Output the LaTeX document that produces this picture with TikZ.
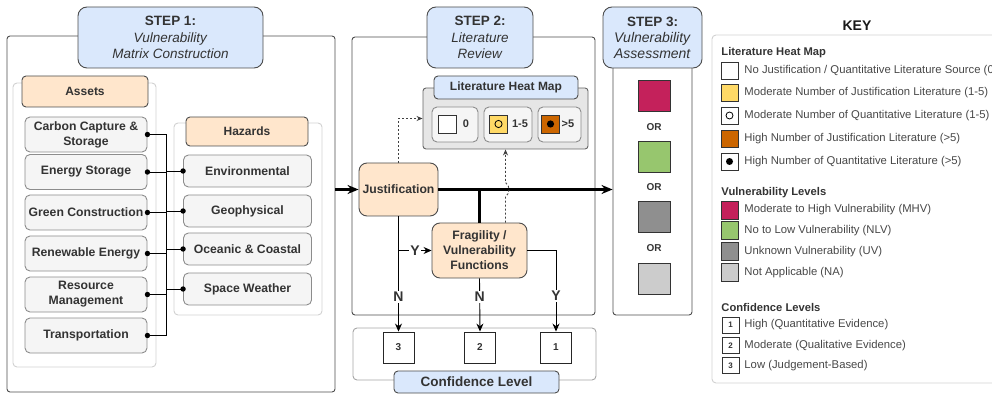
\documentclass[tikz,border=0pt]{standalone}
\usepackage{fontspec}
\setmainfont{Liberation Sans}
\usetikzlibrary{arrows.meta}
\definecolor{txtgray}{HTML}{333333}
\definecolor{headblue}{HTML}{DAE8FC}
\definecolor{peach}{HTML}{FFE6CC}
\definecolor{boxfill}{HTML}{F5F5F5}
\definecolor{boxline}{HTML}{8C8C8C}
\definecolor{heatfill}{HTML}{E6E6E6}
\definecolor{mhv}{HTML}{C4215B}
\definecolor{nlv}{HTML}{97C66E}
\definecolor{uv}{HTML}{8F8F8F}
\definecolor{na}{HTML}{CCCCCC}
\definecolor{modlit}{HTML}{FFD966}
\definecolor{highlit}{HTML}{CC6600}
\begin{document}
\begin{tikzpicture}[x=1pt,y=-1pt,line width=0.9pt,
  every node/.style={text=txtgray,inner sep=0pt},
  frame/.style={draw=black!70,rounded corners=3pt},
  group/.style={draw=black!18,rounded corners=4pt},
  stephead/.style={draw=black!70,fill=headblue,rounded corners=9pt,align=center,font=\fontsize{13.5}{16.5}\selectfont},
  tag/.style={draw=black!70,rounded corners=4pt,font=\bfseries\fontsize{12}{14}\selectfont,align=center},
  item/.style={draw=boxline,fill=boxfill,rounded corners=5pt,font=\bfseries\fontsize{12.2}{15}\selectfont,align=center},
  proc/.style={draw=black!70,fill=peach,rounded corners=8pt,font=\bfseries\fontsize{12.2}{15}\selectfont,align=center},
  conf/.style={draw=black!85,fill=white,minimum width=31pt,minimum height=31pt,font=\bfseries\fontsize{10}{12}\selectfont},
  swatch/.style={draw=black!80,minimum width=32pt,minimum height=31pt},
  keysq/.style={draw=black!80,minimum width=17pt,minimum height=17pt},
  keytxt/.style={anchor=west,font=\fontsize{11.3}{13}\selectfont,text=black!72},
  keyhead/.style={anchor=west,font=\bfseries\fontsize{11.2}{13}\selectfont},
  yn/.style={fill=white,font=\bfseries\fontsize{14}{16}\selectfont,inner sep=1.5pt},
  lit/.style={dash pattern=on 2pt off 2pt,draw=black!75,-{Stealth[length=6pt,width=5pt]}},
  thick link/.style={line width=2.2pt,-{Stealth[length=11pt,width=9pt]}},
  thin link/.style={-{Stealth[length=8pt,width=7pt]}}
]
\clip (0,0) rectangle (992,395);

% step frames
\node[frame,minimum width=328pt,minimum height=356pt] (s1) at (171,214) {};
\node[frame,minimum width=243pt,minimum height=278pt] (s2) at (473.5,176) {};
\node[frame,minimum width=79pt,minimum height=275pt] (s3) at (652.5,177.5) {};
\node[stephead,minimum width=185pt,minimum height=61pt] (h1) at (170.5,37.5) {\textbf{STEP 1:}\\\textit{Vulnerability}\\\textit{Matrix Construction}};
\node[stephead,minimum width=106pt,minimum height=61pt] (h2) at (480,37.5) {\textbf{STEP 2:}\\\textit{Literature}\\\textit{Review}};
\node[stephead,minimum width=99pt,minimum height=61pt,font=\fontsize{14}{16}\selectfont] (h3) at (652.5,37.5) {\textbf{\fontsize{13.5}{16}\selectfont STEP 3:}\\\textit{Vulnerability}\\\textit{Assessment}};

% step 1
\node[group,minimum width=143pt,minimum height=284pt] (ag) at (84.5,225) {};
\node[group,minimum width=148pt,minimum height=192pt] (hg) at (248,219) {};
\node[tag,fill=peach,minimum width=126pt,minimum height=31pt] (at) at (85,91.5) {Assets};
\node[tag,fill=peach,minimum width=122pt,minimum height=29pt] (ht) at (247,131.5) {Hazards};
\foreach \y/\t [count=\i] in {134.5/{Carbon Capture \&\\Storage},172/Energy Storage,212.5/Green Construction,253.5/Renewable Energy,294.5/{Resource\\Management},335.5/Transportation}
  \node[item,minimum width=122pt,minimum height=35pt] (a\i) at (86,\y) {\t};
\foreach \y/\t [count=\i] in {171/Environmental,211/Geophysical,249/Oceanic \& Coastal,289/Space Weather}
  \node[item,minimum width=128pt,minimum height=32pt] (z\i) at (247.5,\y) {\t};
\coordinate (bus) at (166,0);
\foreach \i in {1,...,6}
{
  \draw (a\i.east) -- (a\i.east -| bus);
  \fill (a\i.east) circle (2.7);
}
\draw (a1.east -| bus) -- (a6.east -| bus);
\foreach \i in {1,...,4}
{
  \draw (z\i.west) -- (z\i.west -| bus);
  \fill (z\i.west) circle (2.7);
}

% step 2
\node[tag,fill=heatfill,draw=black!60,rounded corners=3pt,minimum width=165pt,minimum height=61pt] (hm) at (505.5,118.5) {};
\node[tag,fill=headblue,minimum width=144pt,minimum height=23pt] (hmt) at (506,87.5) {Literature Heat Map};
\foreach \x/\w [count=\i] in {455/46,508/48,559.5/43}
  \node[item,minimum width=\w pt,minimum height=35pt] (b\i) at (\x,124.5) {};
\node[keysq,minimum width=18pt,minimum height=18pt,fill=white] (q1) at (447,124) {};
\node[keysq,minimum width=18pt,minimum height=18pt,fill=modlit] (q2) at (498.5,124) {};
\node[keysq,minimum width=18pt,minimum height=18pt,fill=highlit] (q3) at (550.5,124) {};
\draw[line width=0.8pt] (q2) circle (3.6);
\fill (q3) circle (3.6);
\node[font=\bfseries\fontsize{11}{13}\selectfont] (l1) at (466,124) {0};
\node[font=\bfseries\fontsize{11}{13}\selectfont] (l2) at (520,124) {1-5};
\node[font=\bfseries\fontsize{11}{13}\selectfont] (l3) at (568,124) {>5};

\node[proc,minimum width=79pt,minimum height=53pt] (ju) at (398.5,189.5) {Justification};
\node[proc,minimum width=95pt,minimum height=55pt] (fr) at (479.5,250.5) {Fragility /\\Vulnerability\\Functions};

\node[group,draw=black!35,fill=white,minimum width=243pt,minimum height=52pt] (cg) at (474.5,354) {};
\node[conf] (c3) at (398.5,347.5) {3};
\node[conf] (c2) at (480,347.5) {2};
\node[conf] (c1) at (556,347.5) {1};
\node[tag,fill=headblue,minimum width=165pt,minimum height=22pt,font=\bfseries\fontsize{13.5}{16}\selectfont] (cl) at (476.5,382) {Confidence Level};

\draw[thick link] (s1.east |- ju.west) -- (ju.west);
\draw[thick link] (ju.east) -- (ju.east -| s3.west);
\draw[line width=2.2pt] (fr.north) -- (fr.north |- ju.east);
\draw[lit] (ju.north) |- (hm.west);
\draw[lit] (fr.north -| hm.south) -- ++(0,-26) to[bend right=60] ++(0,-14) -- (hm.south);
\draw[thin link] (ju.south) -- node[yn,pos=0.7] (n3) {N} (c3.north);
\draw[thin link] (ju.south |- fr.west) -- node[yn] (y1) {Y} (fr.west);
\draw[thin link] (fr.south) -- node[yn,pos=0.35] (n2) {N} (c2.north);
\draw[thin link] (fr.east) -| node[yn,pos=0.78] (y2) {Y} (c1.north);

% step 3
\foreach \y/\c [count=\i] in {95.5/mhv,157/nlv,216.5/uv,279/na}
  \node[swatch,fill=\c] (v\i) at (654,\y) {};
\foreach \y [count=\i] in {127,187,248}
  \node[font=\bfseries\fontsize{10}{12}\selectfont] (or\i) at (654,\y) {OR};

% key
\node[font=\bfseries\fontsize{14}{16}\selectfont,text=black!90] (key) at (857,26) {KEY};
\node[group,minimum width=290pt,minimum height=348pt] (kf) at (857,209) {};
\node[keyhead] (k1) at (721,53) {Literature Heat Map};
\node[keyhead] (k2) at (721,193) {Vulnerability Levels};
\node[keyhead] (k3) at (721,307) {Confidence Levels};
\foreach \y/\c/\t [count=\i] in {70.5/white/{No Justification / Quantitative Literature Source (0)},93/modlit/Moderate Number of Justification Literature (1-5),115.5/white/Moderate Number of Quantitative Literature (1-5),138.5/highlit/High Number of Justification Literature (>5),161.5/white/High Number of Quantitative Literature (>5)}
{
  \node[keysq,fill=\c] (r\i) at (729.5,\y) {};
  \node[keytxt] (rt\i) at (744,\y) {\t};
}
\draw[line width=0.8pt] (r3) circle (3.5);
\fill (r5) circle (3.5);
\foreach \y/\c/\t [count=\i] in {210/mhv/Moderate to High Vulnerability (MHV),230.5/nlv/No to Low Vulnerability (NLV),251.5/uv/Unknown Vulnerability (UV),272.5/na/Not Applicable (NA)}
{
  \node[keysq,fill=\c,minimum height=18pt] (u\i) at (729.5,\y) {};
  \node[keytxt] (ut\i) at (744,\y) {\t};
}
\foreach \y/\t [count=\i] in {325/High (Quantitative Evidence),345.5/Moderate (Qualitative Evidence),365.5/Low (Judgement-Based)}
{
  \node[keysq,minimum height=16pt,font=\bfseries\fontsize{8}{10}\selectfont] (w\i) at (730.5,\y) {\i};
  \node[keytxt] (wt\i) at (744,\y) {\t};
}
\end{tikzpicture}
\end{document}
